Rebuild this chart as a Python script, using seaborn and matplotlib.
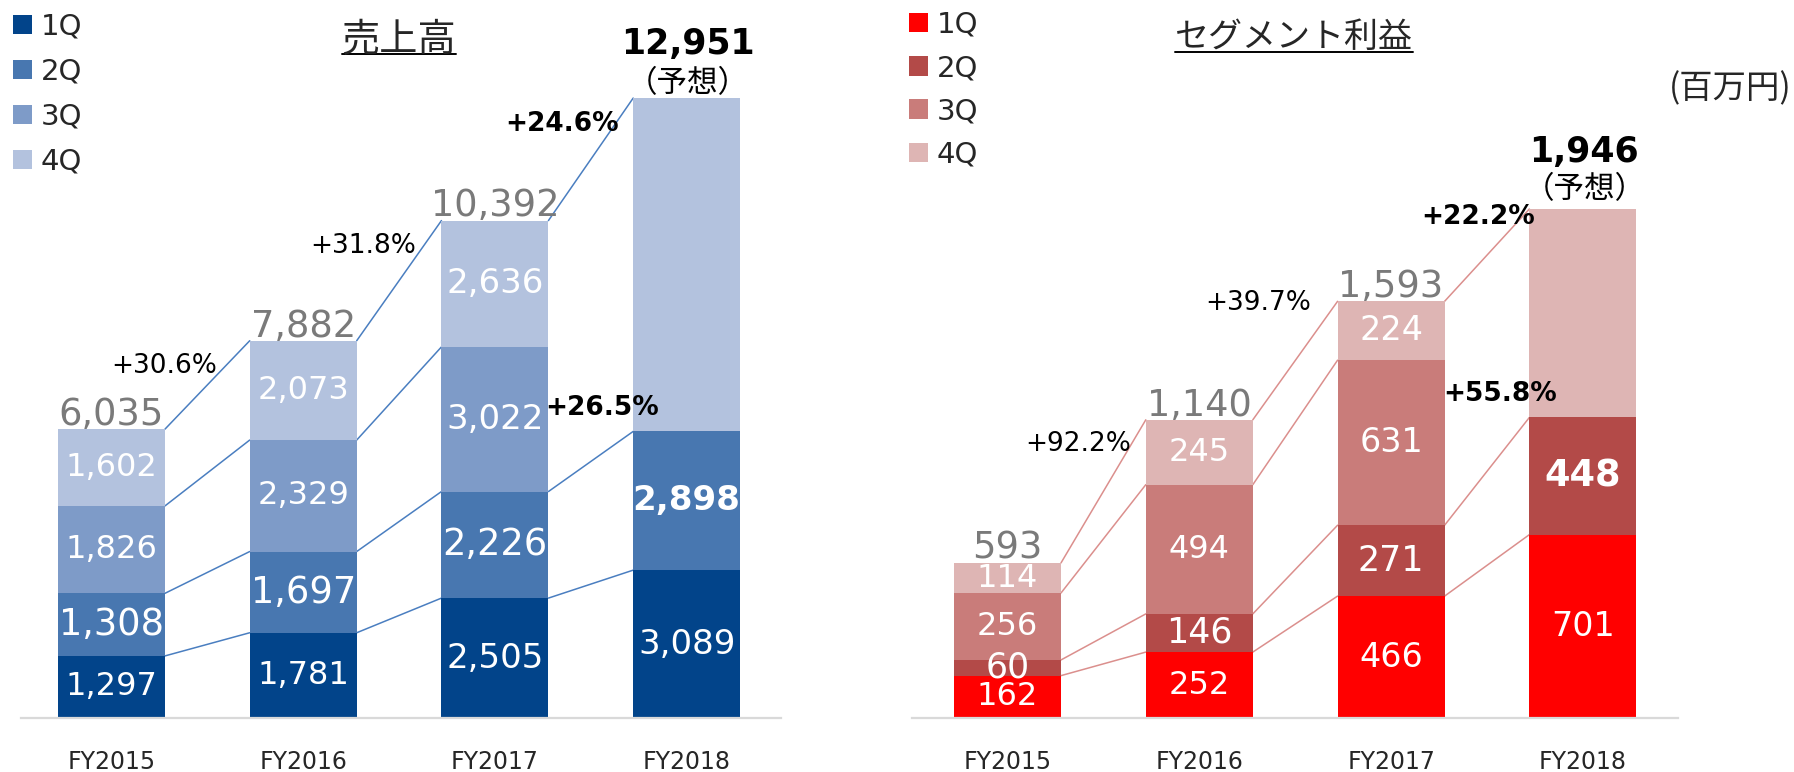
import numpy as np
import matplotlib
matplotlib.use("Agg")
import matplotlib.pyplot as plt
import seaborn as sns
from matplotlib.patches import Patch
from matplotlib.lines import Line2D

# ---------------- data ----------------
years = ["FY2015", "FY2016", "FY2017", "FY2018"]
quarters = ["1Q", "2Q", "3Q", "4Q"]

sales_q1 = [1297, 1781, 2505, 3089]
sales_q2 = [1308, 1697, 2226, 2898]
sales_q3 = [1826, 2329, 3022, None]
sales_q4 = [1602, 2073, 2636, None]
sales_total = [6035, 7882, 10392, 12951]
sales_growth_total = ["+30.6%", "+31.8%", "+24.6%"]
sales_growth_h1 = "+26.5%"

profit_q1 = [162, 252, 466, 701]
profit_q2 = [60, 146, 271, 448]
profit_q3 = [256, 494, 631, None]
profit_q4 = [114, 245, 224, None]
profit_total = [593, 1140, 1593, 1946]
profit_growth_total = ["+92.2%", "+39.7%", "+22.2%"]
profit_growth_h1 = "+55.8%"

title_sales = "売上高"
title_profit = "セグメント利益"
unit_label = "(百万円)"
forecast_label = "（予想）"

# ---------------- style ----------------
FIG_W, FIG_H = 1794, 772
JP = ["Noto Sans CJK JP", "DejaVu Sans"]
sales_colors = ["#02448A", "#4877B0", "#7E9BC8", "#B3C2DE"]
profit_colors = ["#FF0000", "#B34A48", "#C97C7A", "#DEB5B4"]
sales_line = "#4A7EC0"
profit_line = "#DB8F8D"
GRAY = "#7A7A7A"
BAR_W = 0.558

sns.set_style("white")
plt.rcParams["font.family"] = ["DejaVu Sans", "Noto Sans CJK JP"]


def arr(v):
    return np.array([np.nan if x is None else x for x in v], dtype=float)


def panel(ax, q1, q2, q3, q4, total, colors, line_color, growth_total,
          growth_h1, growth_pos, h1_pos, ymax, xlim, seg_sizes, late_size,
          bold_size, fc_offsets):
    q = [arr(v) for v in (q1, q2, q3, q4)]
    tot = arr(total)
    l1 = q[0]
    l2 = l1 + q[1]
    l3 = l2 + q[2]
    levels = [l1, l2, l3, tot]

    for lev, col in zip(levels[::-1], colors[::-1]):
        sns.barplot(x=years, y=lev, order=years, color=col, width=BAR_W,
                    saturation=1, errorbar=None, linewidth=0, ax=ax)

    # connector lines between bar tops of each cumulative level
    for lev in levels:
        for i in range(len(years) - 1):
            if np.isfinite(lev[i]) and np.isfinite(lev[i + 1]):
                ax.plot([i + BAR_W / 2, i + 1 - BAR_W / 2], [lev[i], lev[i + 1]],
                        color=line_color, lw=1.1, zorder=0.5)

    # segment labels
    bottoms = [np.zeros(len(years)), l1, l2, l3]
    last = len(years) - 1
    for k in range(4):
        for j in range(len(years)):
            v = q[k][j]
            if not np.isfinite(v):
                continue
            bold = (k == 1 and j == last)
            if bold:
                size = bold_size
            elif k == 1:
                size = seg_sizes[1]
            else:
                size = late_size if j >= 2 else seg_sizes[k]
            ax.text(j, bottoms[k][j] + v / 2, f"{int(v):,}", ha="center",
                    va="center", color="white", fontsize=size,
                    fontweight="bold" if bold else "normal")

    # totals
    for j in range(len(years)):
        if j < last:
            ax.annotate(f"{int(tot[j]):,}", (j, tot[j]), xytext=(0, 3),
                        textcoords="offset points", ha="center", va="baseline",
                        color=GRAY, fontsize=26.5)
        else:
            ax.annotate(f"{int(tot[j]):,}", (j, tot[j]), xytext=(1, fc_offsets[0]),
                        textcoords="offset points", ha="center", va="baseline",
                        color="black", fontsize=25, fontweight="bold")
            ax.annotate(forecast_label, (j, tot[j]), xytext=(1, fc_offsets[1]),
                        textcoords="offset points", ha="center", va="center",
                        color="black", fontsize=22, family=JP)

    # growth labels
    for txt, (x, y) in zip(growth_total, growth_pos):
        bold = txt == growth_total[-1]
        ax.text(x, y, txt, ha="right", va="center", fontsize=19,
                fontweight="bold" if bold else "normal", color="black")
    ax.text(h1_pos[0], h1_pos[1], growth_h1, ha="left", va="center",
            fontsize=19, fontweight="bold", color="black")

    ax.set_xlim(*xlim)
    ax.set_ylim(0, ymax)
    ax.set_yticks([])
    ax.set_xlabel("")
    ax.set_ylabel("")
    for s in ["top", "right", "left"]:
        ax.spines[s].set_visible(False)
    ax.spines["bottom"].set_color("#D9D9D9")
    ax.spines["bottom"].set_linewidth(1.6)
    ax.tick_params(axis="x", length=0, pad=23, labelsize=17, labelcolor="#262626")
    ax.patch.set_alpha(0)


fig = plt.figure(figsize=(FIG_W / 100, FIG_H / 100), dpi=100)
ax1 = fig.add_axes([21 / FIG_W, 54 / FIG_H, 760 / FIG_W, 718 / FIG_H])
ax2 = fig.add_axes([912 / FIG_W, 54 / FIG_H, 766 / FIG_W, 718 / FIG_H])

panel(ax1, sales_q1, sales_q2, sales_q3, sales_q4, sales_total, sales_colors,
      sales_line, sales_growth_total, sales_growth_h1,
      growth_pos=[(0.55, 7364), (1.588, 9860), (2.647, 12408)],
      h1_pos=(2.262, 6476), ymax=15000, xlim=(-0.472, 3.492),
      seg_sizes=[23, 26.5, 23, 23], late_size=24.5, bold_size=24.5,
      fc_offsets=(32, 10.5))

panel(ax2, profit_q1, profit_q2, profit_q3, profit_q4, profit_total, profit_colors,
      profit_line, profit_growth_total, profit_growth_h1,
      growth_pos=[(0.646, 1047), (1.584, 1587), (2.752, 1915)],
      h1_pos=(2.274, 1239), ymax=2745, xlim=(-0.498, 3.496),
      seg_sizes=[23, 25, 23, 23], late_size=24, bold_size=26.5,
      fc_offsets=(34, 14))

# legends
for colors, x_px, top_px, spacing in [(sales_colors, 13, 13, 0.58),
                                      (profit_colors, 909, 11, 0.52)]:
    fig.legend(handles=[Patch(facecolor=c, edgecolor="none") for c in colors],
               labels=quarters, loc="upper left",
               bbox_to_anchor=(x_px / FIG_W, 1 - top_px / FIG_H),
               frameon=False, fontsize=21, handlelength=0.65, handleheight=0.65,
               handletextpad=0.3, labelspacing=spacing, borderpad=0,
               borderaxespad=0)

# titles
t1 = fig.text(399 / FIG_W, 1 - 40.5 / FIG_H, title_sales, ha="center", va="center",
              fontsize=27.5, family=JP)
t2 = fig.text(1294 / FIG_W, 1 - 37 / FIG_H, title_profit, ha="center", va="center",
              fontsize=24.5, family=JP)
fig.text(1792 / FIG_W, 1 - 89 / FIG_H, unit_label, ha="right", va="center",
         fontsize=24, family=JP)

fig.canvas.draw()
for t, uy in [(t1, 54), (t2, 52)]:
    bb = t.get_window_extent()
    fig.add_artist(Line2D([bb.x0 / FIG_W, bb.x1 / FIG_W], [1 - uy / FIG_H] * 2,
                          transform=fig.transFigure, color="black", lw=1.4))

fig.savefig("out.png", dpi=100)
